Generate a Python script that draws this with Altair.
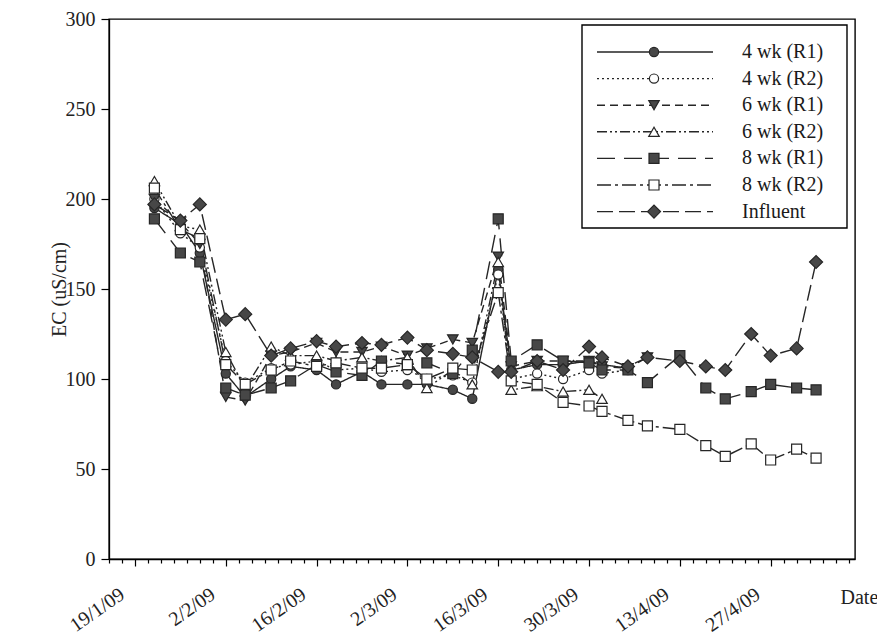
import altair as alt
import pandas as pd

# ---- data ----
dates = ["2009-01-22", "2009-01-26", "2009-01-29", "2009-02-02", "2009-02-05",
         "2009-02-09", "2009-02-12", "2009-02-16", "2009-02-19", "2009-02-23",
         "2009-02-26", "2009-03-02", "2009-03-05", "2009-03-09", "2009-03-12",
         "2009-03-16", "2009-03-18", "2009-03-22", "2009-03-26", "2009-03-30",
         "2009-04-01", "2009-04-05", "2009-04-08", "2009-04-13", "2009-04-17",
         "2009-04-20", "2009-04-24", "2009-04-27", "2009-05-01", "2009-05-04"]

N = None
ec_4wk_r1 = [195, 186, 170, 103, 90, 100, 107, 105, 97, 104, 97, 97, 97, 94, 89,
             161, 105, 108, 108, 110, 108, 106, N, N, N, N, N, N, N, N]
ec_4wk_r2 = [200, 181, 173, 110, 98, 106, 108, 110, 105, 106, 104, 105, 100, 102, 98,
             158, 100, 103, 100, 105, 103, 105, N, N, N, N, N, N, N, N]
ec_6wk_r1 = [200, 187, 175, 90, 88, 113, 115, 120, 115, 115, 118, 113, 117, 122, 120,
             168, 107, 110, 110, 110, 107, 106, 112, N, N, N, N, N, N, N]
ec_6wk_r2 = [210, 185, 183, 115, 95, 118, 113, 113, 110, 112, 110, 112, 95, 105, 97,
             165, 94, 96, 93, 94, 89, N, N, N, N, N, N, N, N, N]
ec_8wk_r1 = [189, 170, 165, 95, 91, 95, 99, 108, 104, 102, 110, 108, 109, 103, 116,
             189, 110, 119, 110, 109, 105, 105, 98, 113, 95, 89, 93, 97, 95, 94]
ec_8wk_r2 = [206, 183, 178, 108, 97, 105, 110, 107, 109, 106, 106, 108, 100, 106, 105,
             148, 99, 97, 87, 85, 82, 77, 74, 72, 63, 57, 64, 55, 61, 56]
ec_influent = [197, 188, 197, 133, 136, 113, 117, 121, 118, 120, 119, 123, 116, 114, 112,
               104, 104, 110, 105, 118, 112, 107, 112, 110, 107, 105, 125, 113, 117, 165]

series_names = ["4 wk (R1)", "4 wk (R2)", "6 wk (R1)", "6 wk (R2)",
                "8 wk (R1)", "8 wk (R2)", "Influent"]
series_values = [ec_4wk_r1, ec_4wk_r2, ec_6wk_r1, ec_6wk_r2,
                 ec_8wk_r1, ec_8wk_r2, ec_influent]

major_labels = ["19/1", "2/2", "16/2", "2/3", "16/3", "30/3", "13/4", "27/4"]
y_ticks = [0, 50, 100, 150, 200, 250, 300]

# ---- styles ----
LINE = "#262626"
FILL = "#474747"
FONT = "Liberation Serif"
styles = {
    "4 wk (R1)": dict(shape="circle", filled=True, dash=[1, 0], size=85),
    "4 wk (R2)": dict(shape="circle", filled=False, dash=[2, 3], size=85),
    "6 wk (R1)": dict(shape="triangle-down", filled=True, dash=[8, 5], size=110),
    "6 wk (R2)": dict(shape="triangle-up", filled=False, dash=[10, 3, 2, 3, 2, 3], size=110),
    "8 wk (R1)": dict(shape="square", filled=True, dash=[18, 9], size=100),
    "8 wk (R2)": dict(shape="square", filled=False, dash=[14, 4, 3, 4], size=100),
    "Influent": dict(shape="diamond", filled=True, dash=[16, 6], size=170),
}

tick_vals = [alt.DateTime(year=d.year, month=d.month, date=d.day)
             for d in pd.date_range("2009-01-15", "2009-05-09", freq="2D")]
major_js = "[" + ",".join("'%s'" % m for m in major_labels) + "]"
is_major = "indexof(%s, timeFormat(datum.value, '%%-d/%%-m')) >= 0" % major_js

x_enc = alt.X(
    "date:T",
    scale=alt.Scale(domain=[alt.DateTime(year=2009, month=1, date=15),
                            alt.DateTime(year=2009, month=5, date=10)]),
    axis=alt.Axis(
        values=tick_vals,
        labelExpr="%s ? timeFormat(datum.value, '%%-d/%%-m/%%y') : ''" % is_major,
        tickSize={"condition": {"test": is_major, "value": 7}, "value": 4},
        labelAngle=-35, labelAlign="right", labelBaseline="middle",
        labelPadding=26, labelOffset=-13, labelOverlap=False, labelFlush=False,
        labelBound=False, labelFontSize=20,
        title="Date", titleX=731, titleY=38, titleAlign="left",
        titleBaseline="middle", titleAngle=0, titleFontSize=20,
    ),
)
y_enc = alt.Y(
    "ec:Q",
    scale=alt.Scale(domain=[0, 300]),
    axis=alt.Axis(values=y_ticks, tickSize=8, labelPadding=6, labelFontSize=20,
                  title="EC (uS/cm)", titleFontSize=20, titleX=-50, titleY=270,
                  titleAlign="center", titleBaseline="middle", titleAngle=-90),
)

layers = []
for name, vals in zip(series_names, series_values):
    df = pd.DataFrame({"date": [d + "T00:00:00" for d in dates], "ec": vals}).dropna()
    st = styles[name]
    layers.append(
        alt.Chart(df).mark_line(color=LINE, strokeWidth=1.4, strokeDash=st["dash"])
        .encode(x=x_enc, y=y_enc)
    )
for name, vals in zip(series_names, series_values):
    df = pd.DataFrame({"date": [d + "T00:00:00" for d in dates], "ec": vals}).dropna()
    st = styles[name]
    layers.append(
        alt.Chart(df).mark_point(shape=st["shape"], filled=True,
                                 fill=FILL if st["filled"] else "white",
                                 stroke=LINE, strokeWidth=1.2, size=st["size"], opacity=1)
        .encode(x=x_enc, y=y_enc)
    )

# ---- legend box ----
one = pd.DataFrame({"k": [0]})
layers.append(
    alt.Chart(one).mark_rect(fill="white", stroke="black", strokeWidth=1.4)
    .encode(x=alt.value(473), x2=alt.value(738), y=alt.value(6), y2=alt.value(209))
)
row_y = [33, 59.6, 86.2, 112.8, 139.4, 166, 192.6]
for name, yy in zip(series_names, row_y):
    st = styles[name]
    layers.append(
        alt.Chart(one).mark_rule(color=LINE, strokeWidth=1.4, strokeDash=st["dash"])
        .encode(x=alt.value(488), x2=alt.value(604), y=alt.value(yy))
    )
    layers.append(
        alt.Chart(one).mark_point(shape=st["shape"], filled=True,
                                  fill=FILL if st["filled"] else "white",
                                  stroke=LINE, strokeWidth=1.2, size=st["size"], opacity=1)
        .encode(x=alt.value(545), y=alt.value(yy))
    )
    layers.append(
        alt.Chart(one).mark_text(align="left", baseline="middle", font=FONT,
                                 fontSize=20, color="#1a1a1a")
        .encode(x=alt.value(633), y=alt.value(yy), text=alt.value(name))
    )

chart = (
    alt.layer(*layers)
    .properties(width=746, height=540, autosize="none",
                padding={"left": 101, "top": 11, "right": 22, "bottom": 82},
                background="white")
    .configure_axis(labelFont=FONT, titleFont=FONT, labelColor="#222",
                    titleColor="#222", titleFontWeight="normal", domainColor="black",
                    tickColor="black", domainWidth=1.3, tickWidth=1.2, grid=False)
    .configure_view(stroke="black", strokeWidth=1.4)
)

chart.save("out.html", embed_options={"renderer": "svg", "actions": False})
